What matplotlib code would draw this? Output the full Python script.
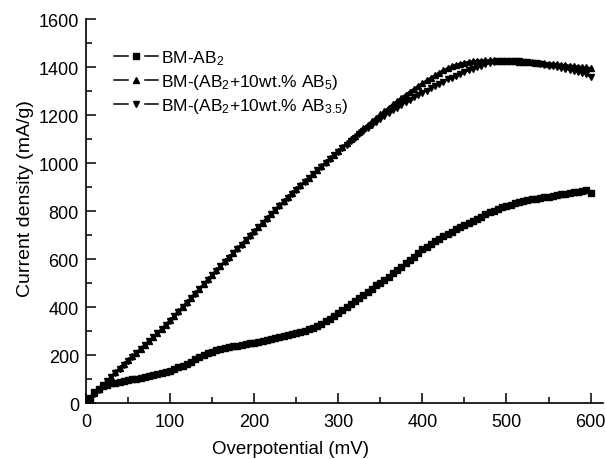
import matplotlib
matplotlib.use("Agg")
import matplotlib.pyplot as plt
from matplotlib.ticker import MultipleLocator
from matplotlib.lines import Line2D
from matplotlib.legend_handler import HandlerBase

plt.rcParams['font.family'] = ['Liberation Sans', 'DejaVu Sans']
plt.rcParams['mathtext.fontset'] = 'custom'
plt.rcParams['mathtext.rm'] = 'Liberation Sans'
plt.rcParams['mathtext.it'] = 'Liberation Sans'

overpotential = list(range(0, 601, 5))

bm_ab2 = [0, 20, 45, 60, 71, 77, 82, 85, 88, 92, 95, 98, 101, 104, 107, 111, 115, 119, 123, 128,
          133, 140, 148, 156, 164, 172, 182, 192, 200, 207, 213, 219, 224, 228, 232, 236, 239, 242, 245, 248,
          252, 255, 258, 262, 266, 270, 274, 278, 282, 286, 290, 295, 301, 307, 314, 321, 330, 340, 351, 363,
          376, 388, 400, 412, 425, 438, 451, 464, 477, 490, 502, 514, 526, 540, 554, 568, 582, 596, 610, 625,
          640, 652, 663, 674, 684, 694, 704, 714, 723, 732, 741, 750, 759, 768, 777, 786, 794, 802, 809, 816,
          822, 827, 832, 836, 840, 844, 848, 851, 854, 857, 860, 863, 866, 869, 872, 875, 878, 881, 884, 887,
          874]

bm_ab5 = [0, 20, 40, 58, 75, 92, 110, 128, 145, 162, 178, 194, 210, 227, 243, 259, 275, 292, 309, 327,
          345, 363, 382, 401, 420, 439, 458, 477, 496, 515, 534, 553, 572, 590, 608, 626, 644, 662, 680, 698,
          716, 734, 752, 770, 788, 806, 823, 840, 857, 874, 891, 907, 923, 939, 955, 971, 987, 1003, 1019, 1035,
          1051, 1067, 1083, 1099, 1114, 1129, 1144, 1159, 1174, 1189, 1203, 1217, 1231, 1245, 1259, 1272, 1285, 1297, 1309, 1321,
          1332, 1344, 1355, 1366, 1376, 1386, 1395, 1403, 1409, 1414, 1418, 1421, 1424, 1426, 1427, 1428, 1428, 1428, 1427, 1426,
          1425, 1424, 1423, 1422, 1421, 1420, 1419, 1418, 1417, 1416, 1414, 1413, 1411, 1410, 1408, 1406, 1404, 1402, 1400, 1398,
          1395]

bm_ab35 = [0, 18, 38, 56, 73, 90, 108, 126, 143, 160, 176, 192, 208, 225, 241, 257, 273, 290, 307, 325,
           343, 361, 380, 399, 418, 437, 456, 475, 494, 513, 532, 551, 570, 588, 606, 624, 642, 660, 678, 696,
           714, 732, 750, 768, 786, 804, 821, 838, 855, 872, 889, 905, 921, 937, 953, 969, 985, 1001, 1017, 1032,
           1047, 1062, 1077, 1091, 1105, 1119, 1133, 1146, 1159, 1172, 1185, 1197, 1209, 1220, 1231, 1242, 1253, 1263, 1273, 1283,
           1293, 1302, 1312, 1321, 1330, 1339, 1348, 1356, 1364, 1372, 1379, 1386, 1393, 1400, 1406, 1411, 1416, 1420, 1423, 1425,
           1426, 1426, 1425, 1424, 1422, 1420, 1418, 1415, 1412, 1409, 1406, 1403, 1400, 1397, 1393, 1389, 1385, 1381, 1377, 1372,
           1358]

labels = ['BM-AB$_2$', 'BM-(AB$_2$+10wt.% AB$_5$)', 'BM-(AB$_2$+10wt.% AB$_{3.5}$)']
markers = ['s', '^', 'v']


class SplitLineHandler(HandlerBase):
    def create_artists(self, legend, orig_handle, xdescent, ydescent, width, height, fontsize, trans):
        y = height / 2.0 - ydescent
        x0 = -xdescent
        x1 = x0 + width
        mid = (x0 + x1) / 2.0
        gap = 6.0
        l1 = Line2D([x0, mid - gap], [y, y], color='black', lw=1.1)
        l2 = Line2D([mid + gap, x1], [y, y], color='black', lw=1.1)
        m = Line2D([mid], [y], marker=orig_handle.get_marker(), markersize=4.2,
                   color='black', linestyle='none')
        for a in (l1, l2, m):
            a.set_transform(trans)
        return [l1, l2, m]


fig = plt.figure(figsize=(6.05, 4.6), dpi=100)
ax = fig.add_axes([0.142, 0.1217, 0.855, 0.8348])

series = [bm_ab2, bm_ab5, bm_ab35]
sizes = [4, 4.5, 4.5]
handles = []
for vals, mk, ms, lab in zip(series, markers, sizes, labels):
    h, = ax.plot(overpotential, vals, '-', color='black', marker=mk, markersize=ms, lw=1.6, label=lab)
    handles.append(h)

ax.set_xlim(0, 615)
ax.set_ylim(0, 1600)
ax.xaxis.set_major_locator(MultipleLocator(100))
ax.xaxis.set_minor_locator(MultipleLocator(50))
ax.yaxis.set_major_locator(MultipleLocator(200))
ax.yaxis.set_minor_locator(MultipleLocator(100))
ax.spines['top'].set_visible(False)
ax.spines['right'].set_visible(False)
for s in ['left', 'bottom']:
    ax.spines[s].set_linewidth(1.2)
ax.tick_params(which='both', direction='in', top=False, right=False, width=1.1)
ax.tick_params(which='major', length=7, labelsize=13)
ax.tick_params(axis='x', which='major', pad=7)
ax.tick_params(axis='y', which='major', pad=5)
ax.tick_params(which='minor', length=4)

ax.set_xlabel('Overpotential (mV)', fontsize=13.5)
ax.xaxis.set_label_coords(0.395, -0.096)
ax.set_ylabel('Current density (mA/g)', fontsize=14)
ax.yaxis.set_label_coords(-0.10, 0.536)

leg = ax.legend(handles, labels, loc='upper left', frameon=False, fontsize=12.5, handlelength=2.5,
                bbox_to_anchor=(0.025, 0.965), labelspacing=0.3, handletextpad=0.2,
                handler_map={Line2D: SplitLineHandler()})

fig.savefig('out.png', dpi=100)
